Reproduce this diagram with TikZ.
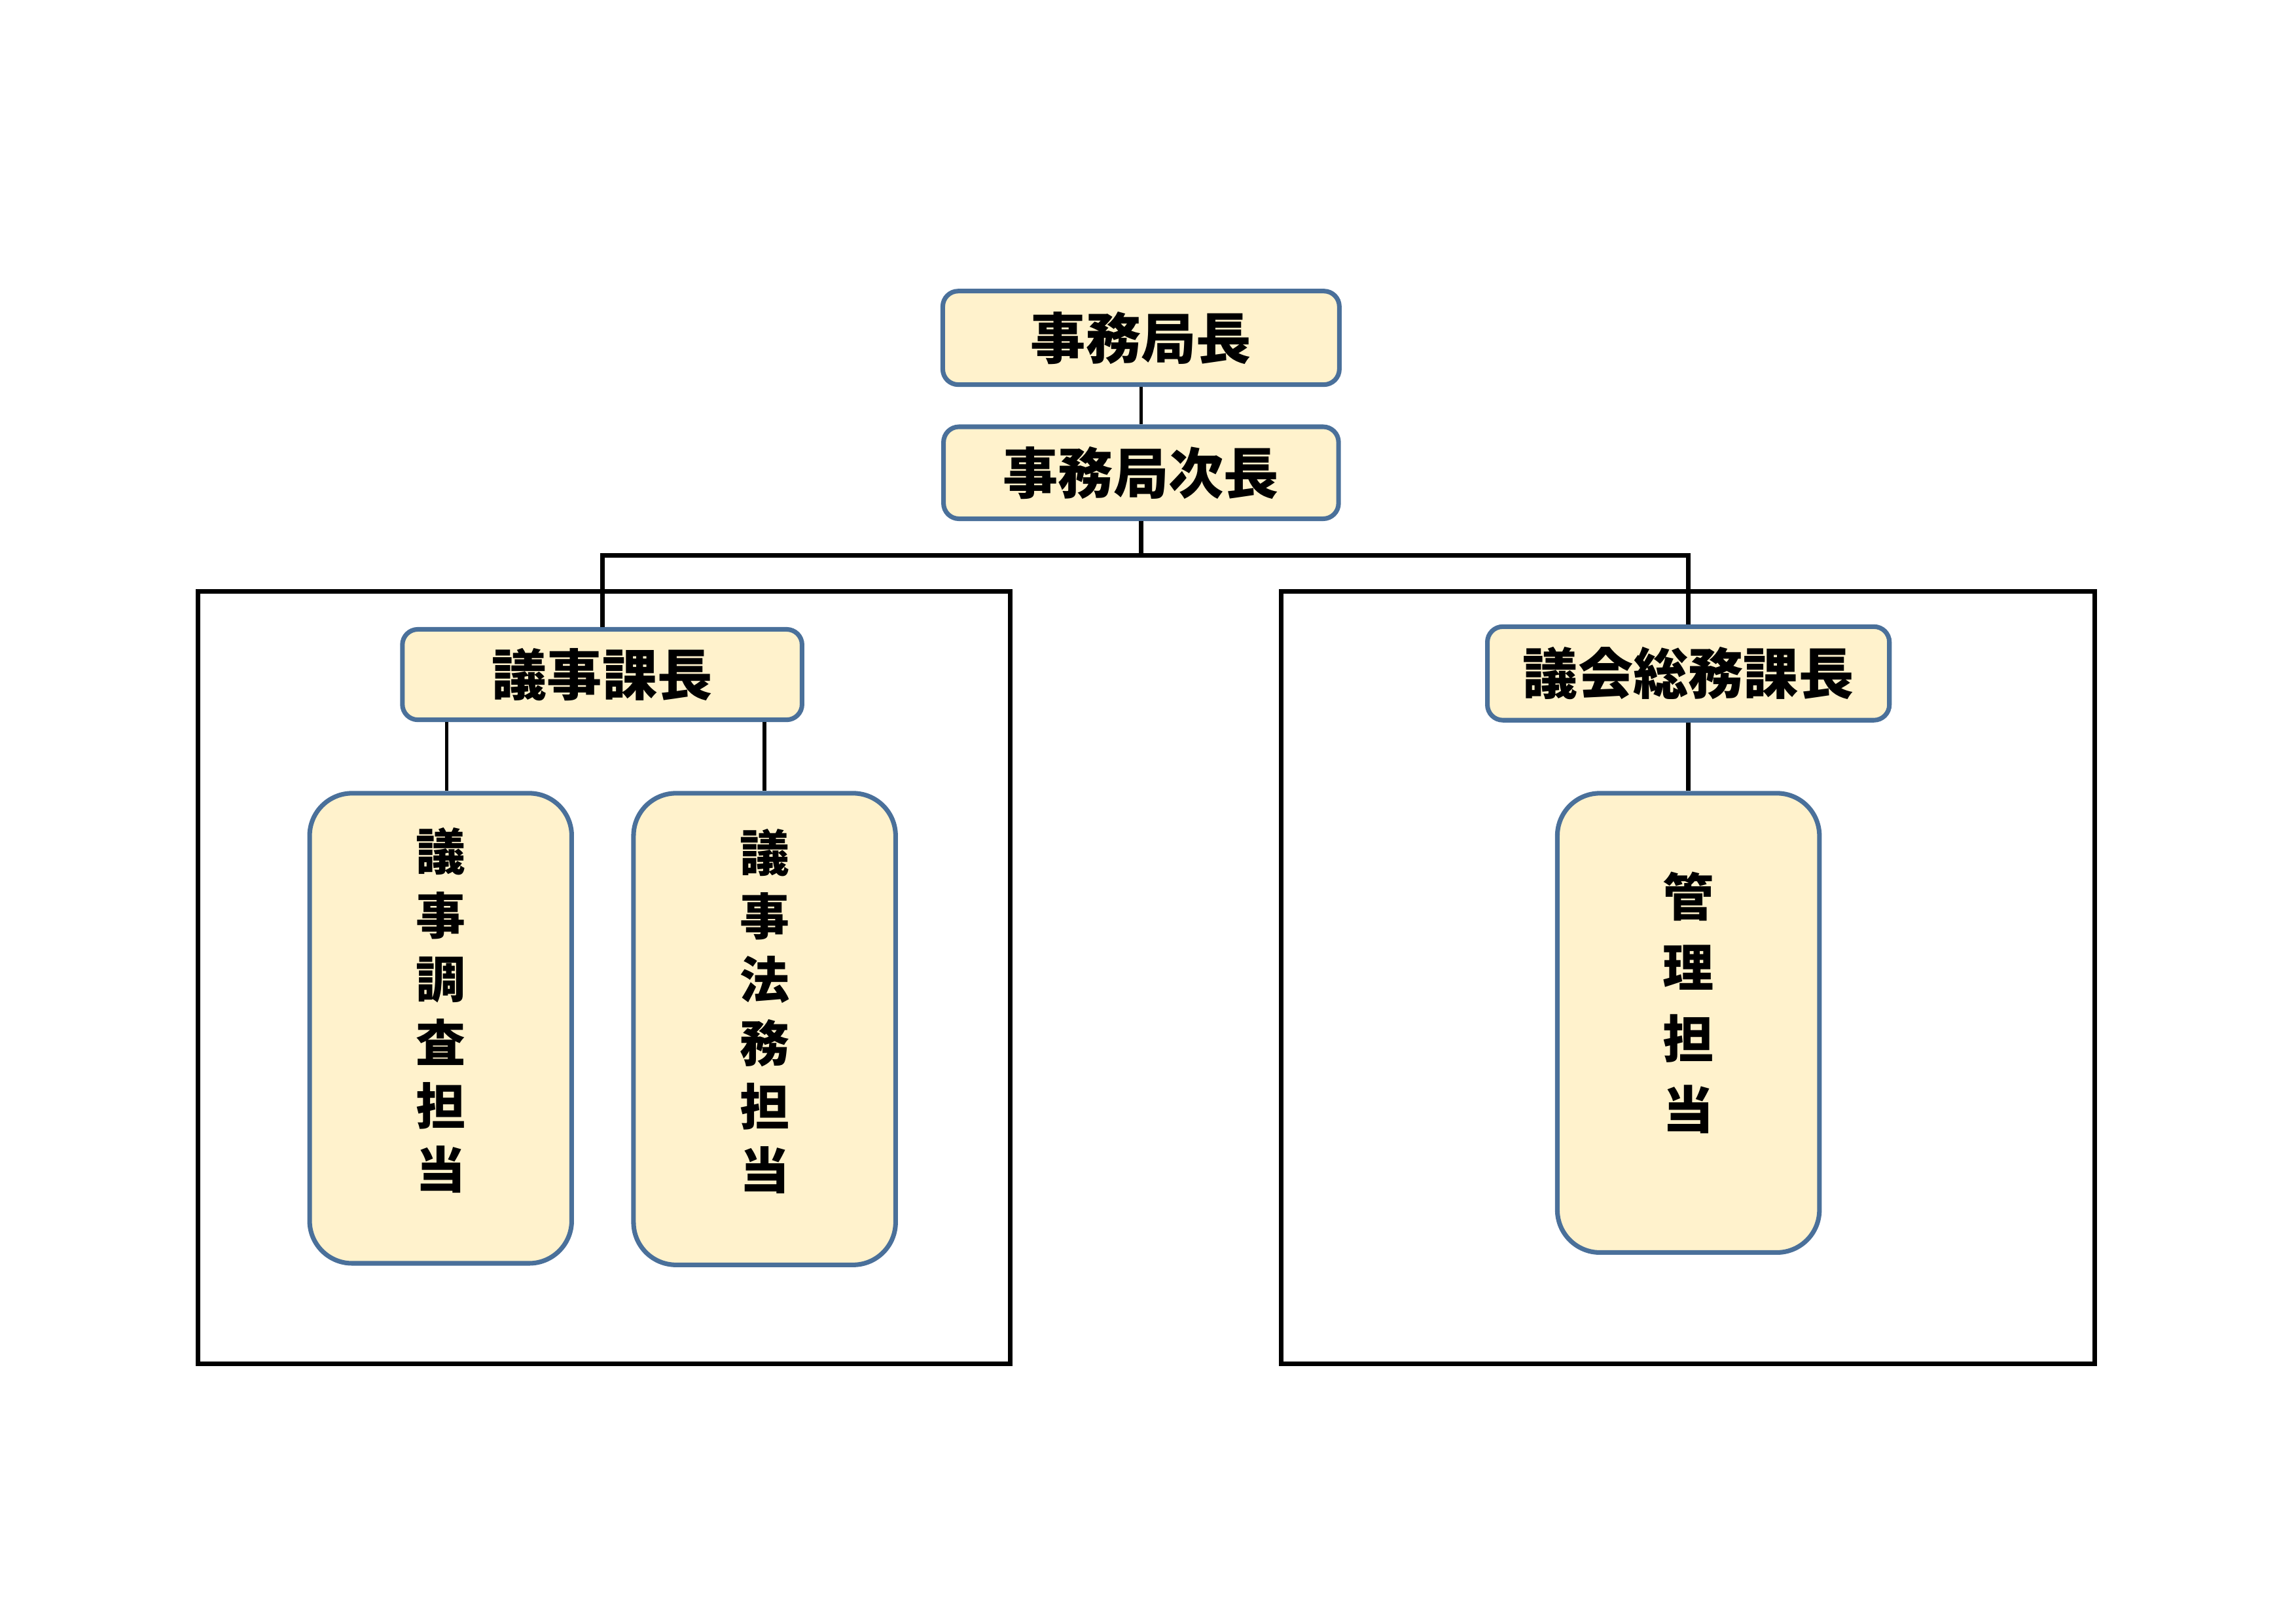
\documentclass[tikz,border=0pt]{standalone}
\usepackage{fontspec}
\newfontfamily\jpfont{Noto Sans CJK JP}
\definecolor{boxfill}{HTML}{FFF2CC}
\definecolor{boxline}{HTML}{4A709A}
\tikzset{
  post/.style={draw=boxline, fill=boxfill, line width=1.7pt, rounded corners=0.2cm,
    inner sep=0pt, font=\jpfont\bfseries\fontsize{20.3}{24}\selectfont},
  tallbox/.style={draw=boxline, fill=boxfill, line width=1.7pt, rounded corners=0.55cm,
    minimum width=3.39cm},
  talltext/.style={align=center, inner sep=0pt},
  link/.style={line width=1.3pt},
  frame/.style={line width=1.7pt}
}
\begin{document}
\begin{tikzpicture}
\useasboundingbox (0,0) rectangle (29.7,21);
% frames
\draw[frame] (2.56,3.36) rectangle (13.07,13.35);
\draw[frame] (16.57,3.36) rectangle (27.10,13.35);
% posts
\node[post, minimum width=5.13cm, minimum height=1.21cm] (chief) at (14.76,16.63) {事務局長};
\node[post, minimum width=5.11cm, minimum height=1.19cm] (deputy) at (14.76,14.885) {事務局次長};
\node[post, minimum width=5.17cm, minimum height=1.17cm] (gijika) at (7.79,12.275) {議事課長};
\node[post, minimum width=5.20cm, minimum height=1.21cm] (somuka) at (21.84,12.29) {議会総務課長};
% sections
\node[tallbox, minimum height=6.08cm] (chosa) at (5.70,7.70) {};
\node[tallbox, minimum height=6.10cm] (homu) at (9.89,7.69) {};
\node[tallbox, minimum height=5.94cm] (kanri) at (21.84,7.77) {};
\node[talltext, font=\jpfont\bfseries\fontsize{18.3}{23.4}\selectfont] (chosaT)
  at ([yshift=2.3mm]chosa.center) {議\\事\\調\\査\\担\\当};
\node[talltext, font=\jpfont\bfseries\fontsize{18.3}{23.4}\selectfont] (homuT)
  at ([yshift=2.3mm]homu.center) {議\\事\\法\\務\\担\\当};
\node[talltext, font=\jpfont\bfseries\fontsize{18.8}{26.1}\selectfont] (kanriT)
  at ([yshift=2.6mm]kanri.center) {管\\理\\担\\当};
% lines
\coordinate (bus) at (14.76,13.82);
\draw[link] (chief) -- (deputy);
\draw[frame] (deputy) -- (bus);
\draw[frame] (gijika.north) |- (bus) -| (somuka.north);
\draw[link] ([xshift=0.8mm]gijika.south -| chosa.north) -- ([xshift=0.8mm]chosa.north);
\draw[link] (gijika.south -| homu.north) -- (homu.north);
\draw[frame] (somuka) -- (kanri);
\end{tikzpicture}
\end{document}
